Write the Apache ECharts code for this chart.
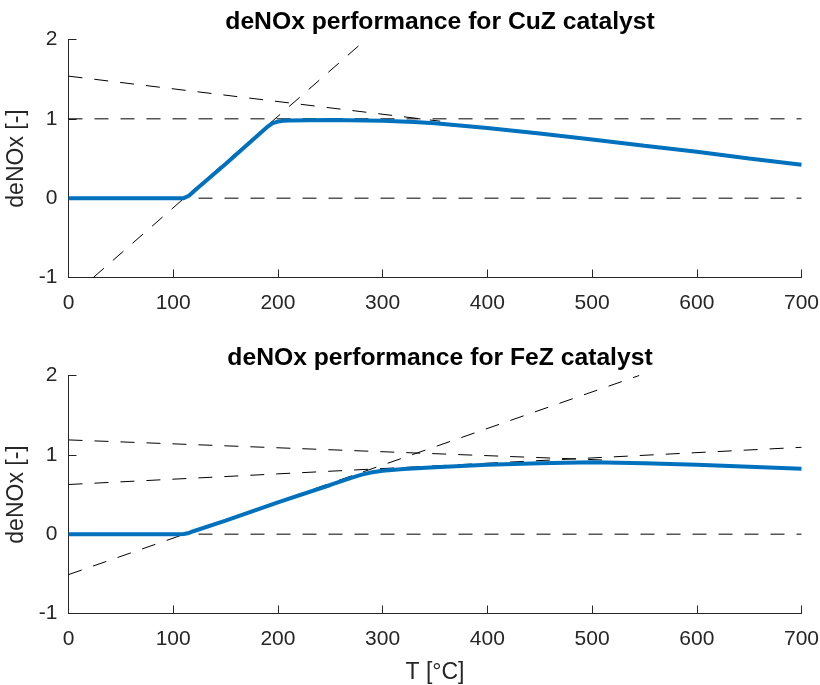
<!DOCTYPE html>
<html lang="en">
<head>
  <meta charset="UTF-8">
  <title>deNOx performance</title>
  <style>
    html, body { margin: 0; padding: 0; background: #fff; }
    #myEcharts { width: 820px; height: 685px; }
  </style>
  <script src="https://cdn.jsdelivr.net/npm/echarts@6/dist/echarts.min.js"></script>
</head>
<body>
  <div id="myEcharts"></div>
  <script>
    // CuZ catalyst curve (T in °C, deNOx in -)
    var cuzT = [0, 105, 110, 115, 120, 150, 190, 195, 200, 205, 210, 250, 300, 330, 350, 400, 450, 500, 550, 600, 650, 700];
    var cuzY = [0, 0, 0, 0.03, 0.09, 0.43, 0.90, 0.945, 0.965, 0.975, 0.98, 0.985, 0.975, 0.96, 0.945, 0.885, 0.815, 0.74, 0.66, 0.585, 0.50, 0.42];
    // FeZ catalyst curve
    var fezT = [0, 105, 110, 115, 120, 150, 200, 250, 270, 280, 290, 300, 320, 350, 400, 450, 500, 550, 600, 650, 700];
    var fezY = [0, 0, 0.003, 0.015, 0.04, 0.17, 0.40, 0.62, 0.71, 0.75, 0.78, 0.80, 0.82, 0.845, 0.875, 0.895, 0.905, 0.895, 0.875, 0.85, 0.825];
    // dashed construction lines, each [[T0, y0], [T1, y1]]
    var cuzLines = [
      [[0, 0], [700, 0]],
      [[0, 1], [700, 1]],
      [[23.7, -1], [284, 2]],
      [[0, 1.538], [355, 0.97]]
    ];
    var fezLines = [
      [[0, 0], [700, 0]],
      [[0, -0.51], [545, 2.0]],
      [[0, 1.188], [520, 0.93]],
      [[0, 0.626], [700, 1.095]]
    ];
    var titles = ['deNOx performance for CuZ catalyst', 'deNOx performance for FeZ catalyst'];
    var xTicks = [0, 100, 200, 300, 400, 500, 600, 700];
    var yTicks = [-1, 0, 1, 2];

    var font = '"Liberation Sans", Arial, Helvetica, sans-serif';
    var axisColor = '#262626';

    function zip(a, b) {
      return a.map(function (v, i) { return [v, b[i]]; });
    }

    function xAxisOf(idx, name) {
      return {
        type: 'value', gridIndex: idx,
        min: xTicks[0], max: xTicks[xTicks.length - 1], interval: 100,
        name: name, nameLocation: 'middle', nameGap: 48,
        nameTextStyle: { fontFamily: font, fontSize: 23, color: axisColor },
        axisLine: { show: true, onZero: false, lineStyle: { color: axisColor, width: 1 } },
        axisTick: { show: true, inside: true, length: 8, lineStyle: { color: axisColor } },
        axisLabel: { margin: 15, fontFamily: font, fontSize: 21, color: axisColor },
        splitLine: { show: false }
      };
    }

    function yAxisOf(idx) {
      return {
        type: 'value', gridIndex: idx,
        min: yTicks[0], max: yTicks[yTicks.length - 1], interval: 1,
        name: 'deNOx [-]', nameLocation: 'middle', nameGap: 32,
        nameTextStyle: { fontFamily: font, fontSize: 23, color: axisColor },
        axisLine: { show: true, lineStyle: { color: axisColor, width: 1 } },
        axisTick: { show: true, inside: true, length: 8, lineStyle: { color: axisColor } },
        axisLabel: { margin: 11, padding: [4, 0, 0, 0], fontFamily: font, fontSize: 21, color: axisColor },
        splitLine: { show: false }
      };
    }

    var series = [];
    [[cuzT, cuzY, cuzLines], [fezT, fezY, fezLines]].forEach(function (d, idx) {
      d[2].forEach(function (seg) {
        series.push({
          type: 'line', xAxisIndex: idx, yAxisIndex: idx,
          data: seg, symbol: 'none',
          lineStyle: { color: '#000', width: 1, type: [14, 12] }, z: 2
        });
      });
      series.push({
        type: 'line', xAxisIndex: idx, yAxisIndex: idx,
        data: zip(d[0], d[1]), showSymbol: false, symbol: 'none',
        lineStyle: { color: '#0072BD', width: 4 }, z: 3
      });
    });

    var myChart = echarts.init(document.getElementById('myEcharts'));
    option = {
      animation: false,
      title: [
        { text: titles[0], left: 435, top: 5, textAlign: 'center',
          textStyle: { fontFamily: font, fontSize: 24.7, fontWeight: 'bold', color: '#000' } },
        { text: titles[1], left: 435, top: 341, textAlign: 'center',
          textStyle: { fontFamily: font, fontSize: 24.7, fontWeight: 'bold', color: '#000' } }
      ],
      grid: [
        { left: 68.5, right: 18.5, top: 39.5, height: 238, outerBoundsMode: 'none' },
        { left: 68.5, right: 18.5, top: 375.5, height: 238, outerBoundsMode: 'none' }
      ],
      xAxis: [xAxisOf(0, ''), xAxisOf(1, 'T [°C]')],
      yAxis: [yAxisOf(0), yAxisOf(1)],
      series: series
    };
    myChart.setOption(option);
  </script>
</body>
</html>
